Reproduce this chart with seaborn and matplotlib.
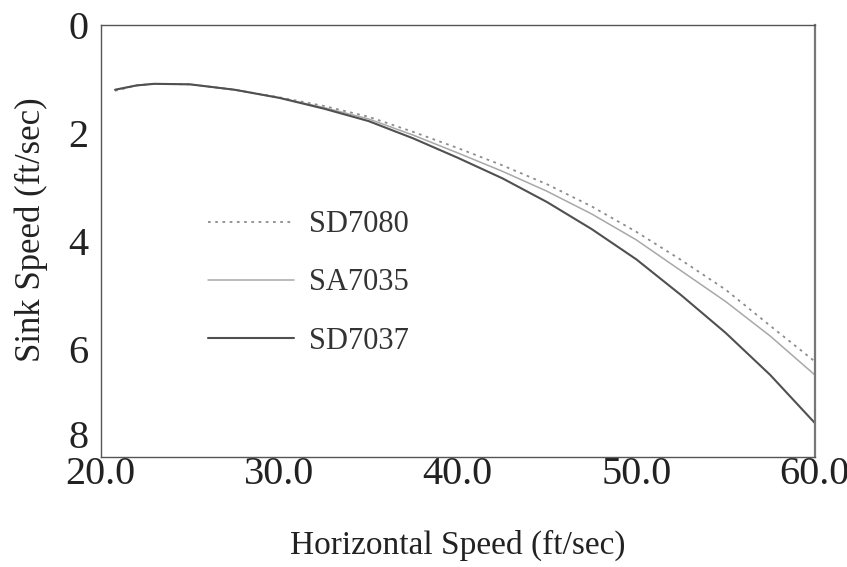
import numpy as np
import pandas as pd
import matplotlib
matplotlib.use("Agg")
import matplotlib.pyplot as plt
from matplotlib.ticker import MultipleLocator
import seaborn as sns

# Data (ft/sec)
horizontal_speed = [20.8, 22.0, 23.0, 25.0, 27.5, 30.0, 32.5, 35.0, 37.5, 40.0,
                    42.5, 45.0, 47.5, 50.0, 52.5, 55.0, 57.5, 60.0]
sink_sd7080 = [1.22, 1.12, 1.09, 1.10, 1.20, 1.34, 1.50, 1.70, 1.98, 2.28,
               2.60, 2.95, 3.36, 3.83, 4.35, 4.90, 5.57, 6.23]
sink_sa7035 = [1.20, 1.12, 1.09, 1.10, 1.20, 1.35, 1.53, 1.74, 2.04, 2.37,
               2.71, 3.08, 3.50, 3.98, 4.55, 5.12, 5.76, 6.48]
sink_sd7037 = [1.20, 1.12, 1.09, 1.10, 1.20, 1.35, 1.55, 1.78, 2.10, 2.46,
               2.84, 3.28, 3.78, 4.34, 5.00, 5.70, 6.48, 7.37]
series_names = ["SD7080", "SA7035", "SD7037"]

x_ticks = [20.0, 30.0, 40.0, 50.0, 60.0]
y_ticks = [0, 2, 4, 6, 8]

df = pd.DataFrame({
    "Horizontal Speed": horizontal_speed * 3,
    "Sink Speed": sink_sd7080 + sink_sa7035 + sink_sd7037,
    "Airfoil": sum([[n] * len(horizontal_speed) for n in series_names], []),
})

sns.set_theme(style="white")
plt.rcParams["font.family"] = ["Liberation Serif", "DejaVu Serif"]

fig = plt.figure(figsize=(8.47, 5.67), dpi=100)
ax = fig.add_axes([0.119, 0.194, 0.843, 0.762])

palette = {"SD7080": "#8c8c8c", "SA7035": "#a8a8a8", "SD7037": "#505050"}
dashes = {"SD7080": (1.5, 2.5), "SA7035": "", "SD7037": ""}
sizes = {"SD7080": 1.3, "SA7035": 1.1, "SD7037": 1.5}

sns.lineplot(data=df, x="Horizontal Speed", y="Sink Speed", hue="Airfoil",
             style="Airfoil", size="Airfoil", sizes=sizes,
             palette=palette, dashes=dashes, hue_order=series_names,
             style_order=series_names, size_order=series_names, ax=ax,
             legend="brief")

ax.set_xlim(20, 60)
ax.set_ylim(8, 0)
ax.set_xticks(x_ticks)
ax.set_xticklabels([f"{v:.1f}" for v in x_ticks])
ax.set_yticks(y_ticks)
ax.set_yticklabels([str(v) for v in y_ticks])
ax.xaxis.set_minor_locator(MultipleLocator(5))
ax.yaxis.set_minor_locator(MultipleLocator(0.5))

ax.tick_params(axis="both", which="major", direction="in", length=12,
               width=1.0, color="#555555", labelsize=29, labelcolor="#222222")
ax.tick_params(axis="both", which="minor", direction="in", length=6,
               width=0.8, color="#777777")
ax.tick_params(axis="x", which="major", pad=-1)
ax.tick_params(axis="y", which="major", pad=9)
ax.get_yticklabels()[-1].set_verticalalignment("bottom")

for side, sp in ax.spines.items():
    sp.set_visible(True)
    sp.set_color("#555555")
    sp.set_linewidth(1.0)
ax.spines["right"].set_color("#777777")
ax.spines["right"].set_linewidth(1.6)

ax.set_xlabel("Horizontal Speed (ft/sec)", fontsize=24, color="#222222", labelpad=27)
ax.set_ylabel("Sink Speed (ft/sec)", fontsize=25, color="#222222")
ax.yaxis.set_label_coords(-0.074, 0.525)

handles, labels = ax.get_legend_handles_labels()
keep = [(h, l) for h, l in zip(handles, labels) if l in series_names]
leg = ax.legend([h for h, _ in keep], [l for _, l in keep], loc="upper left",
                bbox_to_anchor=(0.129, 0.606), frameon=False, fontsize=22,
                handlelength=2.8, handletextpad=0.5, labelspacing=0.95,
                borderpad=0)
for t in leg.get_texts():
    t.set_color("#333333")

fig.savefig("out.png", dpi=100)
